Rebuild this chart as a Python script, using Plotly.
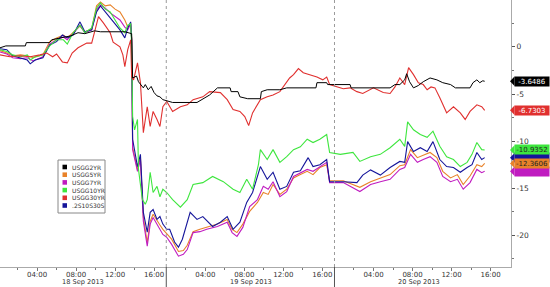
import plotly.graph_objects as go

# ---- data: (session hour, bp change) ; 18 Sep 00:00 = 0, each session = 17.25 h ----
day_len = 17.25
days = ["18 Sep 2013", "19 Sep 2013", "20 Sep 2013"]
hour_ticks = [4, 8, 12, 16]
hour_labels = ["04:00", "08:00", "12:00", "16:00"]
minor_hours = [2, 6, 10, 14]

names = ["USGG2YR", "USGG5YR", "USGG7YR", "USGG10YR", "USGG30YR", ".2S10S30S"]
colors = ["#000000", "#e8822a", "#c01cc0", "#3ee63e", "#e0302f", "#15159a"]

usgg2 = [(0.2,-0.1),(0.8,0.1),(2.8,0.1),(2.9,0.45),(5.3,0.45),(5.5,0.75),(6.4,0.95),(7.4,1.15),
         (8.2,1.5),(8.9,1.4),(9.9,1.7),(10.5,1.6),(13.0,1.6),(13.5,1.5),(13.7,1.4),(13.8,-3.3),
         (14.2,-3.1),(14.4,-3.7),(14.7,-4.1),(14.9,-4.35),(15.1,-4.0),(15.4,-4.55),(15.7,-4.2),
         (16.0,-4.85),(16.3,-5.2),(16.6,-5.3),(16.9,-5.6),(17.3,-5.7),(17.9,-5.9),(20.4,-5.9),
         (21.0,-5.5),(21.7,-5.1),(22.5,-4.35),(23.8,-4.35),(23.9,-4.75),(24.6,-4.75),(24.8,-5.3),
         (25.6,-5.5),(26.9,-5.5),(27.0,-4.75),(27.6,-4.55),(28.9,-4.55),(29.6,-4.35),(32.6,-4.35),
         (32.7,-3.8),(33.7,-3.8),(33.8,-4.0),(36.1,-4.0),(36.2,-4.35),(40.2,-4.35),(40.7,-4.0),
         (41.2,-4.0),(41.7,-3.5),(41.9,-2.85),(42.2,-3.7),(42.6,-4.35),(43.1,-4.1),(43.6,-3.7),
         (44.3,-3.3),(45.0,-3.5),(45.6,-3.8),(46.4,-4.0),(46.9,-4.35),(48.4,-4.35),(48.7,-3.8),
         (49.1,-3.5),(49.4,-3.8),(49.7,-3.6),(49.9,-3.6486)]

usgg5 = [(0.2,-0.4),(0.9,-0.65),(1.5,-0.95),(2.3,-0.85),(3.0,-0.95),(3.6,-1.15),(4.6,-0.85),
         (5.3,0.55),(6.0,0.95),(6.7,1.25),(7.1,0.95),(7.7,1.5),(8.4,2.2),(8.9,1.6),(9.6,1.9),
         (10.1,4.35),(10.5,4.75),(11.0,4.35),(11.5,4.45),(12.0,4.0),(12.5,3.7),(13.0,2.85),
         (13.3,2.1),(13.6,2.45),(13.7,0.95),(13.8,-10.7),(14.3,-13.0),(14.6,-11.75),(14.9,-18.1),
         (15.3,-20.75),(15.6,-18.5),(15.9,-17.75),(16.3,-18.5),(16.6,-18.9),(16.9,-19.35),
         (17.3,-19.8),(17.8,-20.4),(18.5,-21.7),(19.0,-21.6),(19.4,-21.05),(20.0,-19.6),
         (20.7,-19.35),(21.4,-19.15),(22.5,-18.8),(23.5,-18.3),(24.0,-19.35),(24.5,-19.7),
         (25.1,-18.8),(25.8,-17.45),(26.6,-16.5),(27.2,-15.45),(27.7,-15.65),(28.2,-14.6),
         (28.9,-15.65),(29.6,-15.1),(30.3,-13.9),(31.0,-13.55),(31.7,-13.2),(32.3,-13.55),
         (33.0,-12.8),(33.7,-12.5),(34.0,-14.2),(35.4,-14.2),(37.1,-14.9),(38.2,-14.3),
         (39.2,-13.9),(40.2,-13.55),(41.2,-12.6),(41.7,-12.5),(42.3,-10.9),(43.0,-11.75),
         (43.6,-11.5),(44.3,-11.2),(45.0,-11.75),(45.6,-13.2),(46.4,-13.9),(47.1,-13.55),
         (47.7,-14.6),(48.4,-13.7),(49.1,-12.5),(49.6,-12.7),(49.9,-12.3606)]

usgg7 = [(0.2,-0.55),(0.9,-0.75),(1.5,-1.15),(2.3,-1.25),(3.0,-1.15),(3.6,-1.5),(4.6,-1.05),
         (5.3,0.3),(6.0,0.75),(6.7,1.05),(7.1,0.75),(7.7,1.4),(8.4,2.3),(8.9,1.5),(9.6,1.8),
         (10.1,3.9),(10.5,4.45),(11.0,4.1),(11.5,3.6),(12.0,3.2),(12.5,2.85),(13.0,2.1),
         (13.3,1.8),(13.6,2.45),(13.7,0.75),(13.8,-10.9),(14.3,-13.2),(14.6,-11.95),(14.9,-18.5),
         (15.3,-21.15),(15.6,-18.8),(15.9,-18.1),(16.3,-18.8),(16.6,-19.35),(16.9,-19.9),
         (17.3,-20.2),(17.8,-20.95),(18.5,-22.2),(19.0,-22.0),(19.4,-21.5),(20.0,-19.7),
         (20.7,-19.6),(21.4,-19.35),(22.5,-19.05),(23.5,-18.6),(24.0,-19.7),(24.5,-20.1),
         (25.1,-19.15),(25.8,-16.95),(26.6,-16.2),(27.2,-14.8),(27.7,-15.1),(28.2,-14.3),
         (28.9,-15.9),(29.6,-15.35),(30.3,-13.75),(31.0,-13.35),(31.7,-13.0),(32.3,-13.2),
         (33.0,-12.7),(33.7,-12.25),(34.0,-14.4),(35.4,-14.4),(37.1,-15.35),(38.2,-14.6),
         (39.2,-14.3),(40.2,-14.05),(41.2,-13.0),(41.7,-12.8),(42.3,-11.4),(43.0,-12.25),
         (43.6,-11.95),(44.3,-11.65),(45.0,-12.25),(45.6,-13.75),(46.4,-14.3),(47.1,-14.05),
         (47.7,-15.1),(48.4,-14.4),(49.1,-13.0),(49.6,-13.35),(49.9,-13.2)]

usgg10 = [(0.2,-0.3),(0.9,-0.5),(1.5,-0.85),(2.3,-1.05),(3.0,-0.85),(3.3,-1.4),(3.8,-1.05),
          (4.6,-0.85),(5.3,0.1),(6.0,0.75),(6.7,0.75),(7.1,0.3),(7.7,1.5),(8.4,2.3),(8.9,1.5),
          (9.6,2.0),(10.1,4.1),(10.5,4.65),(11.0,4.0),(11.5,3.7),(12.0,2.85),(12.5,2.0),
          (13.0,1.5),(13.3,2.3),(13.6,2.45),(13.7,0.2),(13.8,-7.4),(14.0,-8.8),(14.3,-7.7),
          (14.4,-13.0),(14.8,-16.2),(15.1,-16.7),(15.3,-16.2),(15.6,-13.3),(15.9,-15.45),
          (16.3,-14.8),(16.6,-15.9),(16.9,-15.1),(17.3,-15.45),(17.9,-16.2),(18.7,-17.0),
          (19.4,-16.2),(20.0,-14.6),(21.0,-14.4),(22.0,-13.75),(23.1,-14.3),(24.1,-15.1),
          (24.8,-15.45),(25.5,-14.05),(26.1,-15.1),(26.7,-12.5),(26.9,-10.9),(27.6,-11.95),
          (28.2,-10.9),(28.9,-12.25),(29.6,-11.65),(30.3,-10.9),(31.0,-10.6),(31.7,-9.8),
          (32.3,-10.15),(33.0,-9.8),(33.7,-9.3),(34.0,-11.2),(35.1,-11.4),(36.4,-11.2),
          (37.1,-12.15),(38.2,-11.65),(39.2,-11.4),(40.2,-10.7),(41.2,-9.8),(41.7,-10.55),
          (42.0,-7.95),(42.6,-8.8),(43.3,-9.3),(44.0,-9.6),(44.6,-8.95),(45.3,-10.55),
          (46.0,-11.65),(46.7,-11.95),(47.4,-12.7),(48.1,-12.25),(48.6,-11.4),(49.1,-10.15),
          (49.6,-10.9),(49.9,-10.9352)]

usgg30 = [(0.2,-0.85),(1.2,-1.05),(2.2,-0.95),(3.3,-1.05),(4.3,-0.85),(5.0,-0.65),(5.6,-1.05),
          (6.0,-0.75),(6.6,-1.6),(7.1,-1.7),(7.6,-0.65),(8.2,-0.1),(9.1,0.4),(9.6,0.4),(9.9,1.6),
          (10.3,3.2),(10.8,2.55),(11.5,1.5),(11.8,0.5),(12.5,0.0),(12.8,-0.85),(13.0,-2.1),
          (13.3,-0.3),(13.6,0.75),(13.7,-3.2),(13.9,-3.5),(14.3,-1.7),(14.6,-3.8),(14.9,-9.1),
          (15.3,-6.35),(15.6,-8.45),(15.9,-6.85),(16.3,-7.7),(16.6,-8.45),(16.9,-6.35),
          (17.3,-5.8),(17.9,-6.85),(18.7,-6.35),(19.4,-6.15),(20.0,-5.6),(21.0,-5.3),(21.7,-4.75),
          (22.8,-4.85),(23.5,-5.6),(24.1,-6.65),(24.8,-6.85),(25.3,-7.4),(25.7,-8.35),(26.1,-7.0),
          (26.9,-5.6),(27.6,-5.3),(28.2,-5.1),(28.9,-4.75),(29.6,-3.7),(29.9,-3.3),(30.3,-2.95),
          (30.8,-2.3),(31.3,-2.75),(32.0,-2.95),(32.7,-3.2),(33.3,-3.5),(33.7,-3.2),(34.0,-4.0),
          (34.8,-4.25),(35.4,-4.45),(36.1,-4.35),(36.8,-4.75),(37.4,-4.95),(38.5,-4.35),
          (39.5,-4.85),(40.2,-4.95),(40.7,-4.25),(41.2,-3.3),(41.7,-4.0),(42.1,-2.2),(42.6,-2.95),
          (43.1,-3.8),(43.6,-4.0),(44.0,-4.55),(44.4,-4.25),(44.8,-4.35),(45.3,-5.4),(46.0,-7.0),
          (46.7,-6.35),(47.4,-7.0),(47.9,-7.7),(48.4,-6.85),(49.1,-6.15),(49.6,-6.35),(49.9,-6.7303)]

s2s10s30 = [(0.2,-0.2),(0.9,-0.3),(1.5,-0.95),(2.3,-1.15),(3.0,-1.4),(3.3,-1.8),(3.8,-1.4),
            (4.6,-1.15),(5.3,0.2),(6.0,0.55),(6.6,1.25),(7.1,0.95),(7.7,1.25),(8.4,2.65),(8.9,1.6),
            (9.6,1.8),(10.1,3.7),(10.5,4.35),(11.0,3.7),(11.5,3.05),(12.0,2.45),(12.5,1.8),
            (13.0,0.95),(13.3,2.0),(13.6,2.65),(13.7,0.75),(13.8,-9.8),(14.3,-12.7),(14.6,-11.4),
            (14.8,-14.8),(14.9,-17.55),(15.3,-19.65),(15.6,-17.55),(15.9,-17.25),(16.3,-18.3),
            (16.6,-18.0),(16.9,-18.8),(17.3,-19.35),(17.6,-19.35),(18.1,-20.7),(18.5,-21.25),
            (18.9,-20.4),(19.7,-17.55),(20.4,-18.3),(21.0,-18.0),(22.0,-19.05),(22.8,-18.6),
            (23.5,-18.0),(24.1,-19.35),(24.8,-18.6),(25.5,-16.5),(26.1,-15.45),(26.9,-12.7),
            (27.6,-14.05),(28.2,-13.3),(28.9,-15.1),(29.6,-14.8),(30.3,-13.3),(31.0,-13.15),
            (31.8,-11.75),(32.3,-12.7),(33.0,-12.5),(33.7,-11.95),(34.0,-14.3),(35.4,-14.3),
            (36.8,-14.4),(37.4,-13.6),(38.2,-13.05),(39.2,-13.6),(40.2,-12.8),(41.2,-12.15),
            (41.7,-12.25),(42.0,-10.05),(42.6,-11.1),(43.3,-10.7),(44.0,-11.1),(44.6,-10.05),
            (45.3,-11.95),(46.0,-12.7),(46.7,-12.8),(47.4,-13.3),(48.1,-12.8),(48.6,-12.5),
            (49.1,-11.2),(49.6,-11.95),(49.9,-11.75)]

series = [usgg2, usgg5, usgg7, usgg10, usgg30, s2s10s30]
last_labels = ["-3.6486", "-12.3606", "", "-10.9352", "-6.7303", ""]

# ---- figure ----
fig = go.Figure()
draw_order = [1, 2, 5, 3, 4, 0]
for i in draw_order:
    t = [p[0] for p in series[i]]
    v = [p[1] for p in series[i]]
    fig.add_trace(go.Scatter(x=t, y=v, mode="lines", name=names[i],
                             line=dict(color=colors[i], width=1.1 if i else 1.0),
                             showlegend=False, hoverinfo="skip"))

PW, PH = 511, 267   # plot area in px
def px(xp): return xp / PW
def py(yp): return 1 - yp / PH

tickvals, ticktext, minorvals = [], [], []
for d in range(len(days)):
    for h, lab in zip(hour_ticks, hour_labels):
        tickvals.append(d * day_len + h); ticktext.append(lab)
    for h in minor_hours:
        minorvals.append(d * day_len + h)

shapes, annos = [], []
for d in range(1, len(days)):
    xb = d * day_len
    shapes.append(dict(type="line", xref="x", yref="paper", x0=xb, x1=xb, y0=0, y1=1,
                       line=dict(color="#9a9a9a", width=1, dash="dot")))
    shapes.append(dict(type="line", xref="x", yref="paper", x0=xb, x1=xb, y0=-20 / PH, y1=0,
                       line=dict(color="#555555", width=1)))
for d, lab in enumerate(days):
    annos.append(dict(x=d * day_len + 8.7, y=-20 / PH, xref="x", yref="paper", yshift=0,
                      text=lab, showarrow=False, yanchor="bottom", borderpad=0,
                      font=dict(size=6.6, color="#333333", family="DejaVu Sans")))

# last-value tags (drawn in order so green/orange sit on top)
tag_order = [5, 2, 1, 3, 4, 0]
tag_font = {0: "white", 1: "#222222", 2: "#222222", 3: "#222222", 4: "white", 5: "white"}
for i in tag_order:
    yv = series[i][-1][1]
    annos.append(dict(x=1, xref="paper", y=yv, yref="y", xanchor="left", yanchor="middle",
                      xshift=3, text=last_labels[i] if last_labels[i] else "\u00a0",
                      showarrow=False, bgcolor=colors[i], borderpad=0, width=34, height=9,
                      font=dict(size=7, family="DejaVu Sans", color=tag_font[i])))
    shapes.append(dict(type="path", xref="paper", yref="y",
                       path=f"M {px(510)},{yv} L {px(514.5)},{yv + 0.5} L {px(514.5)},{yv - 0.5} Z",
                       fillcolor=colors[i], line=dict(width=0)))

# manual legend
lx0, lx1, ly0, ly1 = 58, 105, 160, 213
shapes.append(dict(type="rect", xref="paper", yref="paper", x0=px(lx0), x1=px(lx1),
                   y0=py(ly1), y1=py(ly0), line=dict(color="#888888", width=1),
                   fillcolor="white", layer="above"))
for k, (nm, c) in enumerate(zip(names, colors)):
    yc = 167 + k * 7.7
    shapes.append(dict(type="rect", xref="paper", yref="paper", x0=px(62.5), x1=px(67),
                       y0=py(yc + 2.3), y1=py(yc - 2.3), fillcolor=c, line=dict(width=0),
                       layer="above"))
    annos.append(dict(x=px(69.5), y=py(yc), xref="paper", yref="paper", xanchor="left",
                      yanchor="middle", text=nm, showarrow=False,
                      font=dict(size=6, color="#333333", family="DejaVu Sans")))

fig.update_layout(
    width=550, height=287, margin=dict(l=0, r=39, t=0, b=20),
    paper_bgcolor="white", plot_bgcolor="white", showlegend=False,
    shapes=shapes, annotations=annos,
    xaxis=dict(range=[0.2, 52.6], showgrid=False, zeroline=False, showline=True,
               linecolor="#aaaaaa", linewidth=1, ticks="outside", ticklen=3,
               tickcolor="#777777", tickvals=tickvals, ticktext=ticktext,
               ticklabelstandoff=-2,
               tickfont=dict(size=7, color="#333333", family="DejaVu Sans"),
               minor=dict(tickvals=minorvals, ticks="outside", ticklen=2, tickcolor="#777777")),
    yaxis=dict(side="right", range=[-23.35, 4.97], showgrid=False, zeroline=False,
               showline=True, linecolor="#aaaaaa", linewidth=1, ticks="outside", ticklen=3,
               tickcolor="#555555", tickvals=[5, 0, -5, -10, -15, -20],
               ticktext=["5", "0", "-5", "-10", "-15", "-20"],
               tickfont=dict(size=7.5, color="#333333", family="DejaVu Sans"),
               minor=dict(tickvals=[2.5, -2.5, -7.5, -12.5, -17.5, -22.5], ticks="outside",
                          ticklen=2, tickcolor="#777777")),
)

fig.write_html("out.html")
